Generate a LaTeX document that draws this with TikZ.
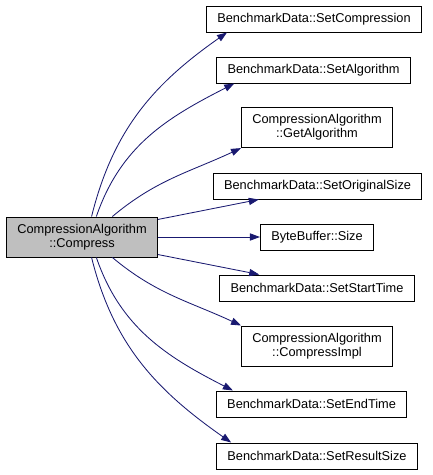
\documentclass[tikz,border=0pt]{standalone}
\usepackage{fontspec}
\setmainfont{Liberation Sans}
\usetikzlibrary{arrows.meta}
\definecolor{edgeblue}{RGB}{25,25,112}
\begin{document}
\begin{tikzpicture}[>={Triangle[length=0.25cm,width=0.18cm]},
  fn/.style={draw, line width=0.7pt, fill=white, align=center,
    font=\fontsize{9.1}{10}\selectfont, inner xsep=0.27cm, inner ysep=0pt,
    minimum height=0.65cm},
  call/.style={->, draw=edgeblue, line width=0.6pt}]
 \useasboundingbox (0,0) rectangle (10.8,-11.875);
 % caller
 \node[fn, fill=gray!50, minimum height=1cm] (main) at (2.05,-5.925) {CompressionAlgorithm\\::Compress};
 % callees
 \node[fn] (setcomp) at (7.85,-0.475) {BenchmarkData::SetCompression};
 \node[fn] (setalgo) at (7.84,-1.75) {BenchmarkData::SetAlgorithm};
 \node[fn, minimum height=1cm] (getalgo) at (7.925,-3.19) {CompressionAlgorithm\\::GetAlgorithm};
 \node[fn] (setorig) at (7.94,-4.65) {BenchmarkData::SetOriginalSize};
 \node[fn] (bufsize) at (7.925,-5.925) {ByteBuffer::Size};
 \node[fn] (setstart) at (7.925,-7.2) {BenchmarkData::SetStartTime};
 \node[fn, minimum height=1cm] (compimpl) at (7.925,-8.65) {CompressionAlgorithm\\::CompressImpl};
 \node[fn] (setend) at (7.79,-10.1) {BenchmarkData::SetEndTime};
 \node[fn] (setres) at (7.925,-11.4) {BenchmarkData::SetResultSize};
 % calls
 \draw[call] (main.65) to[out=76, in=215] ([xshift=0.525cm]setcomp.south west);
 \draw[call] (main.55) to[out=71, in=207] ([xshift=0.45cm]setalgo.south west);
 \draw[call] (main.34) to[out=40, in=205] (getalgo.south west);
 \draw[call] (main.13) -- ([xshift=1.15cm]setorig.south west);
 \draw[call] (main) -- (bufsize);
 \draw[call] (main.-13) -- ([xshift=1.0cm]setstart.north west);
 \draw[call] (main.-34) to[out=-40, in=155] (compimpl.north west);
 \draw[call] (main.-55) to[out=-71, in=153] ([xshift=0.425cm]setend.north west);
 \draw[call] (main.-65) to[out=-76, in=145] ([xshift=0.375cm]setres.north west);
\end{tikzpicture}
\end{document}
